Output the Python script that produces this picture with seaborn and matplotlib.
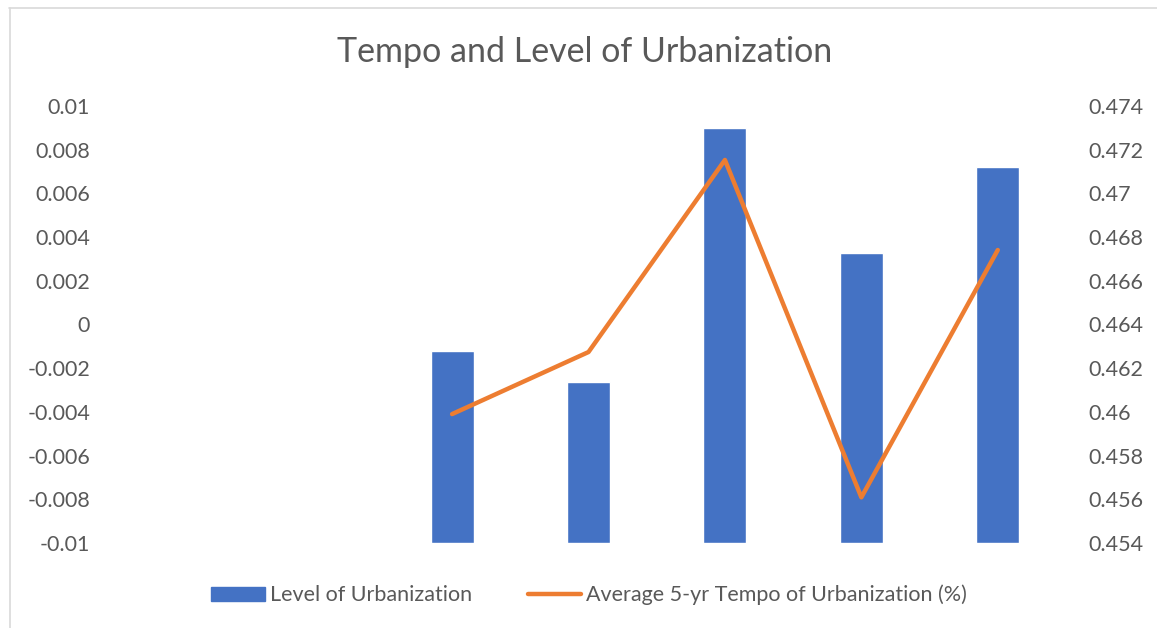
import matplotlib
matplotlib.use("Agg")
import matplotlib.pyplot as plt
import matplotlib.lines as mlines
import numpy as np
import pandas as pd
import seaborn as sns

# Chart data
periods = ["P1", "P2", "P3", "P4", "P5", "P6", "P7"]
level_of_urbanization = [np.nan, np.nan, -0.00121, -0.00262, 0.00901, 0.00329, 0.00719]
avg_tempo = [np.nan, np.nan, 0.45990, 0.46274, 0.47153, 0.45609, 0.46741]
left_ticks = [-0.01, -0.008, -0.006, -0.004, -0.002, 0, 0.002, 0.004, 0.006, 0.008, 0.01]
left_labels = ["-0.01", "-0.008", "-0.006", "-0.004", "-0.002", "0",
               "0.002", "0.004", "0.006", "0.008", "0.01"]
right_ticks = [0.454, 0.456, 0.458, 0.46, 0.462, 0.464, 0.466, 0.468, 0.47, 0.472, 0.474]
right_labels = ["0.454", "0.456", "0.458", "0.46", "0.462", "0.464",
                "0.466", "0.468", "0.47", "0.472", "0.474"]

df = pd.DataFrame({
    "period": periods,
    "pos": np.arange(len(periods)),
    "level": level_of_urbanization,
    "tempo": avg_tempo,
})

sns.set_style("white")
plt.rcParams["font.family"] = ["Lato", "DejaVu Sans"]
text_color = "#595959"
bar_color = "#4472C4"
line_color = "#ED7D31"
floor = left_ticks[0]

fig = plt.figure(figsize=(11.57, 6.28), dpi=100)
ax = fig.add_axes([111 / 1157, 1 - 543 / 628, (1066 - 111) / 1157, (543 - 106) / 628])

# Bars (Excel draws them up from the axis floor at -0.01)
sns.barplot(data=df, x="pos", y="level", color=bar_color, width=0.315,
            saturation=1, ax=ax, errorbar=None, native_scale=False)
for p in ax.patches:
    h = p.get_height()
    if np.isfinite(h):
        p.set_y(floor)
        p.set_height(h - floor)
ax.set_ylim(left_ticks[0], left_ticks[-1])
ax.set_xlim(-0.5, len(periods) - 0.5)
ax.set_yticks(left_ticks)
ax.set_yticklabels(left_labels)
ax.set_xticks([])
ax.set_xlabel("")
ax.set_ylabel("")
ax.tick_params(axis="y", length=0, pad=15, labelsize=15.5, labelcolor=text_color)
sns.despine(ax=ax, left=True, bottom=True)

# Line on secondary axis
ax2 = ax.twinx()
sns.lineplot(data=df.dropna(), x="pos", y="tempo", color=line_color, linewidth=3.2,
             ax=ax2, solid_capstyle="round", solid_joinstyle="round")
ax2.set_ylim(right_ticks[0], right_ticks[-1])
ax2.set_xlim(-0.5, len(periods) - 0.5)
ax2.set_yticks(right_ticks)
ax2.set_yticklabels(right_labels)
ax2.set_ylabel("")
ax2.tick_params(axis="y", length=0, pad=16, labelsize=15.5, labelcolor=text_color)
for s in ax2.spines.values():
    s.set_visible(False)

fig.text(585 / 1157, 1 - 52 / 628, "Tempo and Level of Urbanization", ha="center", va="center",
         fontsize=24.5, color=text_color)

bar_handle = plt.Rectangle((0, 0), 1, 1, color=bar_color)
line_handle = mlines.Line2D([], [], color=line_color, linewidth=3.2, solid_capstyle="round")
fig.legend([bar_handle, line_handle],
           ["Level of Urbanization", "Average 5-yr Tempo of Urbanization (%)"],
           loc="center", bbox_to_anchor=(589 / 1157, 1 - 595 / 628), ncol=2, frameon=False,
           fontsize=15.5, labelcolor=text_color, handlelength=2.5, handleheight=0.65,
           handletextpad=0.2, columnspacing=2.6)

# Chart-area border (top and left edges visible)
fig.add_artist(mlines.Line2D([9 / 1157, 1], [1 - 7.5 / 628, 1 - 7.5 / 628],
                             color="#D9D9D9", linewidth=1.2, transform=fig.transFigure))
fig.add_artist(mlines.Line2D([9.5 / 1157, 9.5 / 1157], [0, 1 - 7.5 / 628],
                             color="#D9D9D9", linewidth=1.2, transform=fig.transFigure))

fig.savefig("out.png", dpi=100)
